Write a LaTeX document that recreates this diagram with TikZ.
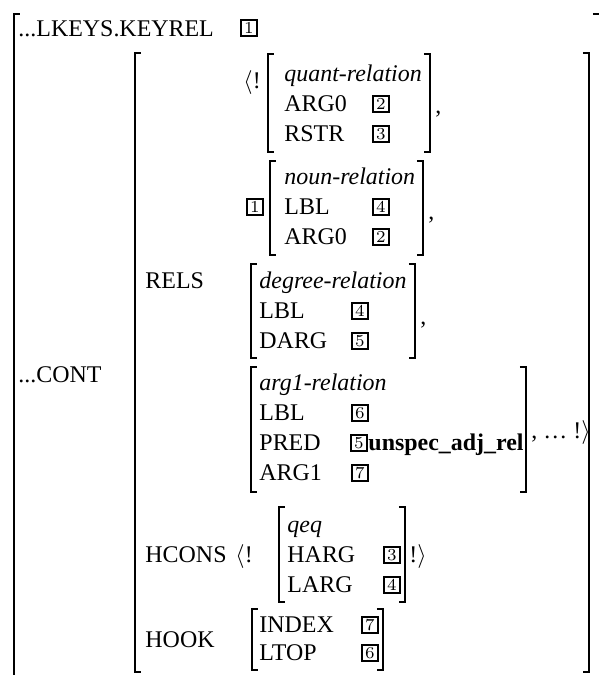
\documentclass[tikz,border=0pt]{standalone}
\usepackage{fontspec}
\setmainfont{Liberation Serif}
\usetikzlibrary{positioning}

\begin{document}
\begin{tikzpicture}[x=0.418pt,y=-0.418pt,
  lbl/.style={anchor=base west,inner sep=0pt,font=\fontsize{10}{12}\selectfont},
  tagbox/.style={draw,line width=0.95pt,inner sep=0pt,minimum size=6.7pt,font=\fontfamily{lmr}\fontsize{7}{7}\selectfont},
  brk/.style={line width=0.85pt}]
\useasboundingbox (0,0) rectangle (599,675);
\draw[brk] (20,14) -- (14,14) -- (14,675);
\draw[brk] (593,14) -- (599,14);
\draw[brk] (141,53) -- (135,53) -- (135,672) -- (141,672);
\draw[brk] (583,53) -- (589,53) -- (589,672) -- (583,672);
\foreach \xa/\ya/\xb/\yb in {268/54/430/152, 270/161/423/255, 251/264/415/358,
  251/367/526/492, 279/507/405/602, 252/609/383/670}{
  \draw[brk] (\xa+6,\ya) -- (\xa,\ya) -- (\xa,\yb) -- (\xa+6,\yb);
  \draw[brk] (\xb-6,\ya) -- (\xb,\ya) -- (\xb,\yb) -- (\xb-6,\yb);
}
\foreach \nm/\x/\y/\txt in {%
  keyrel/18/36/{...LKEYS.KEYREL},%
  cont/18/382/{...CONT},%
  rels/145/288/RELS,%
  hcons/145/562/HCONS,%
  hook/145/647/HOOK,%
  qopen/243/88/{$\langle$!},%
  qrel/284/81/{\textit{quant-relation}},%
  qarg/284/111/ARG0,%
  qrstr/284/141/RSTR,%
  qcomma/435/113/{,},%
  nrel/284/184/{\textit{noun-relation}},%
  nlbl/284/214/LBL,%
  narg/284/244/ARG0,%
  ncomma/428/219/{,},%
  drel/259/288/{\textit{degree-relation}},%
  dlbl/259/318/LBL,%
  ddarg/259/348/DARG,%
  dcomma/420/324/{,},%
  arel/259/390/{\textit{arg1-relation}},%
  albl/259/420/LBL,%
  apred/259/450/PRED,%
  aarg/259/480/ARG1,%
  pred/368/450/{\textbf{unspec\_adj\_rel}},%
  aclose/531/438/{, \dots{} !$\rangle$},%
  hopen/235/562/{$\langle$!},%
  qeq/287/532/{\textit{qeq}},%
  harg/287/562/HARG,%
  larg/287/592/LARG,%
  hclose/409/562/{!$\rangle$},%
  index/259/632/INDEX,%
  ltop/259/660/LTOP%
}{
  \node[lbl] (\nm) at (\x,\y) {\txt};
}
\foreach \nm/\x/\y/\n in {%
  t1/249/28/1, t2/381/104/2, t3/381/134/3,%
  t4/255/207/1, t5/381/207/4, t6/381/237/2,%
  t7/360/311/4, t8/360/341/5,%
  t9/360/413/6, t10/359/443/5, t11/360/473/7,%
  t12/392/555/3, t13/392/585/4,%
  t14/370/625/7, t15/370/653/6%
}{
  \node[tagbox] (\nm) at (\x,\y) {\n};
}
\end{tikzpicture}
\end{document}
